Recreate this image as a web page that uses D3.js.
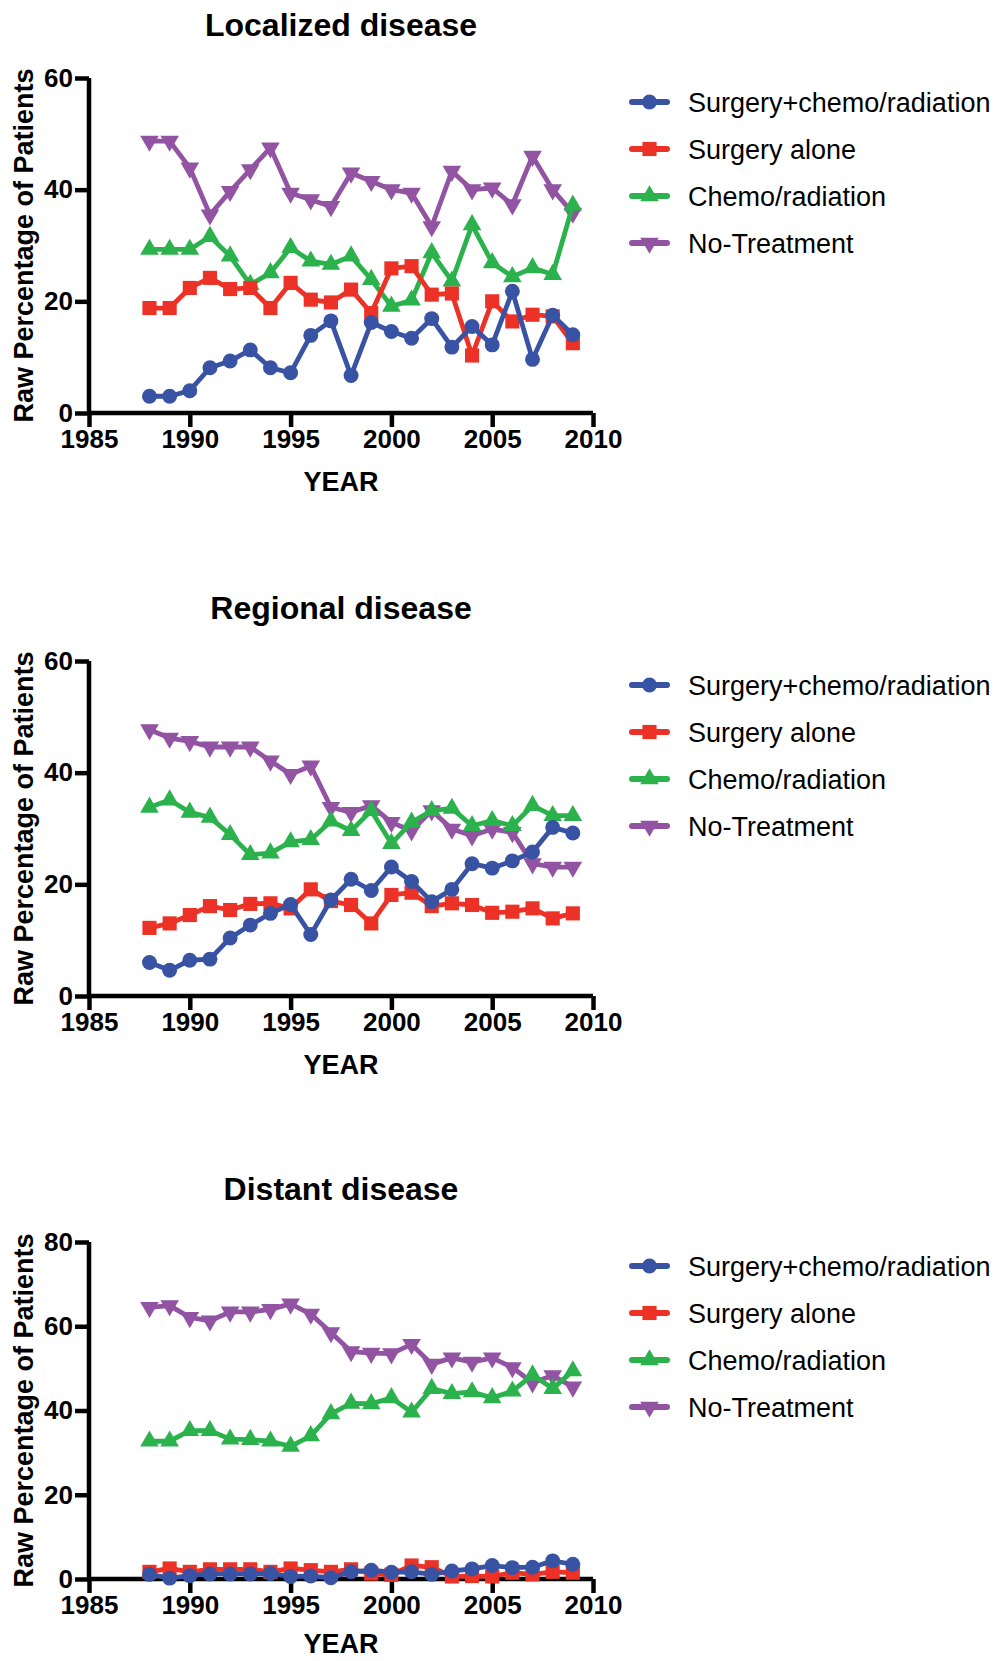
<!DOCTYPE html>
<html><head><meta charset="utf-8">
<script src="https://cdn.jsdelivr.net/npm/d3@7"></script>
<style>
html,body{margin:0;padding:0;background:#fff;}
svg text{font-family:"Liberation Sans",Arial,Helvetica,sans-serif;}
</style></head>
<body>
<svg id="chart" width="995" height="1661"></svg>
<script>
const years = d3.range(1988, 2010);
const seriesNames = ["Surgery+chemo/radiation", "Surgery alone", "Chemo/radiation", "No-Treatment"];
const panelTitles = ["Localized disease", "Regional disease", "Distant disease"];
const xTicks = [1985, 1990, 1995, 2000, 2005, 2010];
const yMax = [60, 60, 80];

// Localized disease
const locSurgChemo = [3.0,3.0,4.0,8.1,9.3,11.3,8.1,7.2,13.9,16.5,6.7,16.2,14.6,13.4,16.9,11.8,15.5,12.2,21.8,9.6,17.5,14.0];
const locSurgAlone = [18.8,18.8,22.4,24.2,22.2,22.4,18.8,23.3,20.3,19.8,22.1,17.9,25.9,26.3,21.2,21.4,10.3,20.0,16.4,17.6,17.3,12.5];
const locChemoRad  = [29.3,29.3,29.3,31.6,28.1,23.0,25.1,29.6,27.2,26.6,28.1,23.9,19.1,20.2,28.7,23.6,33.7,26.9,24.4,26.0,24.8,37.2];
const locNoTreat   = [48.7,48.7,43.9,35.5,39.7,43.6,47.5,39.4,38.2,37.0,43.0,41.5,40.0,39.4,33.4,43.3,40.0,40.3,37.3,46.0,40.0,35.8];

// Regional disease
const regSurgChemo = [6.0,4.6,6.4,6.6,10.4,12.7,14.8,16.4,11.0,17.2,20.9,18.9,23.1,20.5,16.9,19.1,23.7,22.9,24.2,25.8,30.2,29.2];
const regSurgAlone = [12.2,13.0,14.5,16.1,15.4,16.5,16.6,15.7,19.1,17.0,16.3,13.0,18.1,18.5,16.1,16.6,16.3,14.9,15.1,15.7,13.9,14.8];
const regChemoRad  = [33.8,35.1,32.9,32.0,28.9,25.3,25.6,27.6,28.0,31.3,29.6,33.2,27.3,31.1,33.2,33.6,30.5,31.4,30.5,34.1,32.3,32.3];
const regNoTreat   = [47.7,46.2,45.6,44.6,44.6,44.6,42.1,39.7,41.2,33.8,32.9,34.1,31.1,29.6,33.2,29.9,28.7,29.9,29.3,23.7,23.1,23.1];

// Distant disease
const disSurgChemo = [1.1,0.2,0.8,1.2,1.2,1.2,1.3,0.6,0.7,0.3,1.7,2.1,1.6,1.7,1.1,1.9,2.4,3.2,2.7,2.8,4.3,3.5];
const disSurgAlone = [1.7,2.5,1.7,2.3,2.3,2.3,1.7,2.5,2.1,1.7,2.3,1.3,1.0,3.2,2.8,0.6,0.7,0.6,1.5,1.1,1.7,1.5];
const disChemoRad  = [32.7,32.7,35.2,35.2,33.2,33.1,32.7,31.5,34.0,39.2,41.7,41.6,43.0,39.6,45.2,44.0,44.4,43.0,44.6,48.4,45.2,49.4];
const disNoTreat   = [64.5,64.9,62.1,61.3,63.4,63.4,64.0,65.3,62.9,58.5,54.0,53.6,53.5,55.7,51.0,52.5,51.5,52.5,50.2,46.6,48.3,45.6];

const panelData = [
  [locSurgChemo, locSurgAlone, locChemoRad, locNoTreat],
  [regSurgChemo, regSurgAlone, regChemoRad, regNoTreat],
  [disSurgChemo, disSurgAlone, disChemoRad, disNoTreat]
];

const colors = ["#3953a4", "#ec3226", "#2bb24c", "#9153a2"];
const symbolTypes = [d3.symbolCircle, d3.symbolSquare, d3.symbolTriangle, d3.symbolTriangle];
const symbolSizes = [175, 200, 150, 150];
const symbolRot = [0, 0, 0, 180];

const layout = [
  {top: 78, bottom: 413},
  {top: 661, bottom: 996},
  {top: 1242, bottom: 1579}
];
const left = 89, right = 593;

const svg = d3.select("#chart");
const x = d3.scaleLinear().domain([1985, 2010]).range([left, right]);

panelData.forEach((series, p) => {
  const L = layout[p];
  const y = d3.scaleLinear().domain([0, yMax[p]]).range([L.bottom, L.top]);
  const g = svg.append("g");

  // title
  g.append("text").attr("x", (left + right) / 2).attr("y", L.top - 42)
    .attr("text-anchor", "middle").attr("font-size", 32).attr("font-weight", "bold")
    .text(panelTitles[p]);

  // axes
  const yAxis = d3.axisLeft(y).tickValues(d3.range(0, yMax[p] + 1, 20)).tickSize(14).tickPadding(2).tickFormat(d3.format("d"));
  const xAxis = d3.axisBottom(x).tickValues(xTicks).tickSize(14).tickPadding(3).tickFormat(d3.format("d"));
  const ya = g.append("g").attr("transform", `translate(${left},0)`).call(yAxis);
  const xa = g.append("g").attr("transform", `translate(0,${L.bottom})`).call(xAxis);
  [ya, xa].forEach(a => {
    a.select(".domain").attr("stroke", "#000").attr("stroke-width", 4.5);
    a.selectAll(".tick line").attr("stroke", "#000").attr("stroke-width", 4.5);
    a.selectAll(".tick text").attr("fill", "#000").attr("font-size", 26).attr("font-weight", "bold")
      .attr("font-family", '"Liberation Sans",Arial,sans-serif');
  });
  ya.select(".domain").attr("d", `M0,${L.top}V${L.bottom}`);
  xa.select(".domain").attr("d", `M${left},0H${right}`);

  // axis titles
  g.append("text").attr("x", (left + right) / 2).attr("y", Math.min(L.bottom + 78, 1653))
    .attr("text-anchor", "middle").attr("font-size", 27).attr("font-weight", "bold").text("YEAR");
  g.append("text").attr("transform", `translate(33,${(L.top + L.bottom) / 2}) rotate(-90)`)
    .attr("text-anchor", "middle").attr("font-size", 27).attr("font-weight", "bold")
    .text("Raw Percentage of Patients");

  // data, drawn in reverse order so first series sits on top
  const line = d3.line().x((d, i) => x(years[i])).y(d => y(d));
  [3, 2, 1, 0].forEach(s => {
    const vals = series[s];
    g.append("path").datum(vals).attr("d", line).attr("fill", "none")
      .attr("stroke", colors[s]).attr("stroke-width", 4.8).attr("stroke-linejoin", "round");
    const sym = d3.symbol().type(symbolTypes[s]).size(symbolSizes[s]);
    g.selectAll(null).data(vals).enter().append("path")
      .attr("d", sym)
      .attr("transform", (d, i) => `translate(${x(years[i])},${y(d)}) rotate(${symbolRot[s]})`)
      .attr("fill", colors[s]);
  });

  // legend
  seriesNames.forEach((name, s) => {
    const ly = L.top + 24 + s * 47;
    const lg = g.append("g");
    lg.append("line").attr("x1", 632).attr("x2", 667).attr("y1", ly).attr("y2", ly)
      .attr("stroke", colors[s]).attr("stroke-width", 6).attr("stroke-linecap", "round");
    lg.append("path").attr("d", d3.symbol().type(symbolTypes[s]).size(symbolSizes[s])())
      .attr("transform", `translate(649.5,${ly}) rotate(${symbolRot[s]})`).attr("fill", colors[s]);
    lg.append("text").attr("x", 688).attr("y", ly + 9.5).attr("font-size", 27).attr("fill", "#000").text(name);
  });
});
</script>
</body></html>
